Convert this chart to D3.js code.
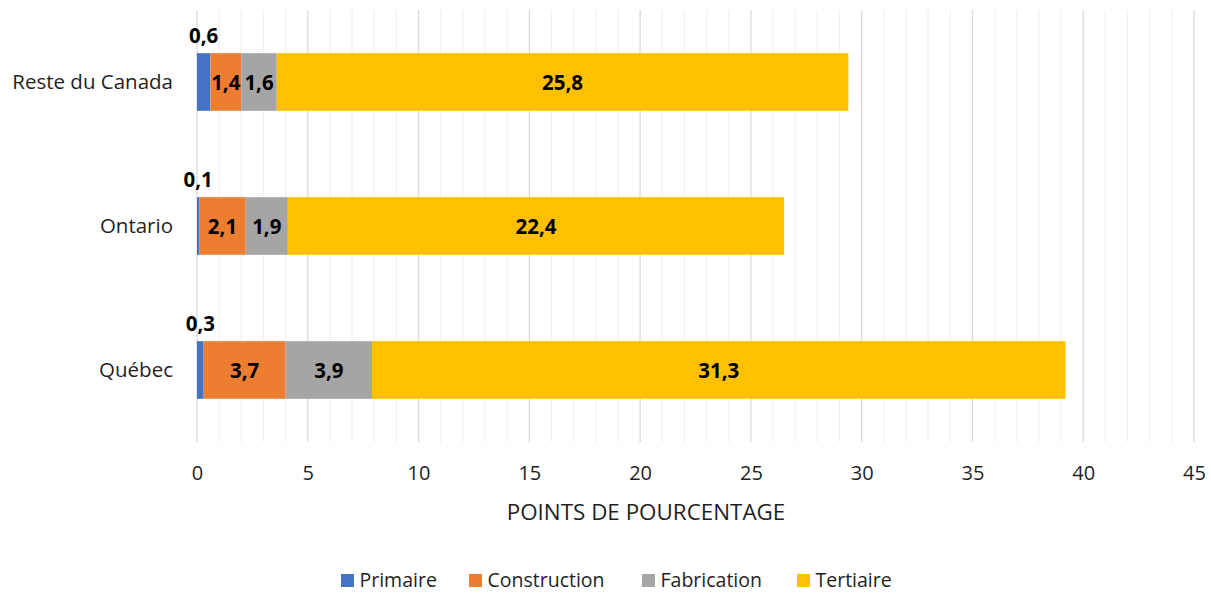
<!DOCTYPE html>
<html><head><meta charset="utf-8">
<script src="https://cdn.jsdelivr.net/npm/d3@7"></script>
<style>body{margin:0;background:#fff;} text{font-family:"Open Sans","Noto Sans",sans-serif;}</style>
</head><body><svg id="c" width="1211" height="593"></svg>
<script>
const categories = ["Reste du Canada", "Ontario", "Québec"];
const seriesNames = ["Primaire", "Construction", "Fabrication", "Tertiaire"];
const primaire = [0.6, 0.1, 0.3];
const construction = [1.4, 2.1, 3.7];
const fabrication = [1.6, 1.9, 3.9];
const tertiaire = [25.8, 22.4, 31.3];
const colors = ["#4472C4", "#ED7D31", "#A5A5A5", "#FFC000"];
const xTicks = [0, 5, 10, 15, 20, 25, 30, 35, 40, 45];
const axisTitle = "POINTS DE POURCENTAGE";

const svg = d3.select("#c");
const x = d3.scaleLinear().domain([0, 45]).range([197, 1194]);
const y = d3.scaleBand().domain(categories).range([10, 442]).paddingInner(0.6).paddingOuter(0.3);

const rows = categories.map((c, i) => ({cat: c, Primaire: primaire[i], Construction: construction[i], Fabrication: fabrication[i], Tertiaire: tertiaire[i]}));
const stack = d3.stack().keys(seriesNames)(rows);
const fmt = v => String(v.toFixed(1)).replace(".", ",");
const txt = "#1f1f1f";

// gridlines
const minor = d3.range(0, 46, 1);
svg.append("g").selectAll("line").data(minor).join("line")
  .attr("x1", d => x(d)).attr("x2", d => x(d)).attr("y1", 10).attr("y2", 442)
  .attr("stroke", d => d % 5 === 0 ? "#d9d9d9" : "#f0f0f0").attr("stroke-width", 1.3);

// bars
const gs = svg.append("g").selectAll("g").data(stack).join("g").attr("fill", (d, i) => colors[i]);
gs.selectAll("rect").data(d => d).join("rect")
  .attr("x", d => x(d[0])).attr("width", d => x(d[1]) - x(d[0]))
  .attr("y", d => y(d.data.cat)).attr("height", y.bandwidth());

// labels
stack.forEach((s, si) => {
  svg.append("g").selectAll("text").data(s).join("text")
    .attr("x", d => x((d[0] + d[1]) / 2))
    .attr("y", d => si === 0 ? y(d.data.cat) - 10 : y(d.data.cat) + y.bandwidth() / 2 + 7.5)
    .attr("text-anchor", "middle").attr("font-weight", "bold").attr("font-size", 20.5)
    .attr("fill", "#000")
    .text(d => fmt(d[1] - d[0]));
});

// category labels
svg.append("g").selectAll("text").data(categories).join("text")
  .attr("x", 173).attr("y", d => y(d) + y.bandwidth() / 2 + 7)
  .attr("text-anchor", "end").attr("font-size", 20.5).attr("fill", txt).text(d => d);

// x axis tick labels
const xa = svg.append("g").attr("transform", "translate(0,442)")
  .call(d3.axisBottom(x).tickValues(xTicks).tickSize(0));
xa.select(".domain").remove();
xa.selectAll("text").attr("y", 38).attr("dy", null).attr("font-size", 20).attr("fill", txt)
  .style("font-family", "'Open Sans','Noto Sans',sans-serif");

svg.append("text").attr("x", 646).attr("y", 520).attr("text-anchor", "middle")
  .attr("font-size", 22.4).attr("fill", txt).text(axisTitle);

// legend
const legX = [341, 469, 642, 797];
const lg = svg.append("g").selectAll("g").data(seriesNames).join("g")
  .attr("transform", (d, i) => `translate(${legX[i]},574)`);
lg.append("rect").attr("width", 13).attr("height", 13).attr("fill", (d, i) => colors[i]);
lg.append("text").attr("x", 18.5).attr("y", 13).attr("font-size", 19.5).attr("fill", txt).text(d => d);
</script></body></html>
